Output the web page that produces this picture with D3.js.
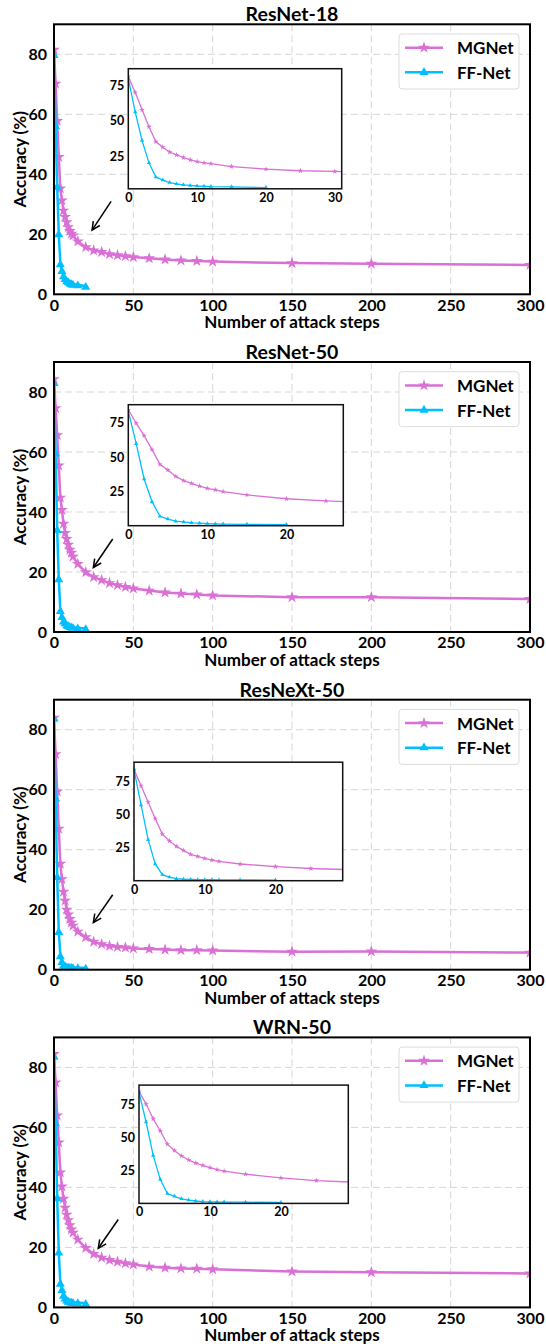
<!DOCTYPE html>
<html>
<head>
<meta charset="utf-8">
<script src="https://cdn.jsdelivr.net/npm/d3@7"></script>
<style>
  body { margin: 0; background: #fff; }
  text { font-family: Lato, "Open Sans", sans-serif; font-weight: bold; fill: #000; }
</style>
</head>
<body>
<div id="chart"></div>
<script>
// attack steps
const steps = [0,1,2,3,4,5,6,7,8,9,10,11,12,15,20,25,30,35,40,45,50,60,70,80,90,100,150,200,300];
const ffSteps = [0,1,2,3,4,5,6,7,8,9,10,11,12,15,20];

const titles = ["ResNet-18", "ResNet-50", "ResNeXt-50", "WRN-50"];

const mgnetResNet18 = [81.5,70.2,57.8,45.8,35.3,31.3,27.9,25.8,24,22.4,21.1,20.2,19.6,17.6,15.7,14.6,14.1,13.4,13,12.7,12.4,12,11.6,11.3,11.1,10.9,10.4,10.2,9.8];
const ffnetResNet18 = [80,56.3,36,20.2,10.2,8,6.2,5.3,4.6,4.2,3.8,3.6,3.4,3.2,2.7];

const mgnetResNet50 = [84.3,74.6,65.6,55.5,44.8,40.7,36.1,33,31,29.1,27.4,26.4,25.1,22.7,19.9,18.3,17.3,16.3,15.6,15,14.5,13.8,13.2,12.8,12.5,12.2,11.6,11.6,11.0];
const ffnetResNet50 = [83.2,59.8,34.2,17.8,7.2,5.2,3.7,3.1,2.5,2.2,1.9,1.7,1.6,1.4,1.2];

const mgnetResNeXt50 = [84,71.8,59.4,47,35.3,30.2,26,23,20,18.4,16.9,15.7,14.7,12.7,10.8,9.3,8.5,7.9,7.6,7.4,7.1,6.9,6.7,6.5,6.5,6.4,6.0,6.1,5.7];
const ffnetResNeXt50 = [84,57.3,31.1,12.8,4.7,2.8,1.6,1.2,1,0.9,0.8,0.8,0.7,0.7,0.6];

const mgnetWRN50 = [84.5,75,64,55,45,40.3,36.2,33.2,30.9,29.1,27.4,26,24.9,22.6,19.8,17.8,16.6,15.8,15.2,14.7,14.3,13.6,13.2,13,12.9,12.7,12.0,11.7,11.3];
const ffnetWRN50 = [83.8,61.6,36.6,18.5,8.1,6,4.1,3.2,2.5,2.1,1.9,1.8,1.7,1.6,1.4];

const xTicks = [0,50,100,150,200,250,300];
const yTicks = [0,20,40,60,80];
const insetYTicks = [25,50,75];
const insetXTicks = [[0,10,20,30],[0,10,20],[0,10,20],[0,10,20]];
const insetXMax = [31, 27.2, 29.5, 29.5];
const insetYLim = [[1.8,87],[0.4,88],[0.1,89.6],[0.7,89.2]];
// annotation arrows in data coords: [x0, y0, x1, y1]
const arrows = [[36,31,24,21.4],[37,31,24.8,21.5],[37,25,24.8,15.7],[40.5,29.3,27.9,19.7]];

const mgnetSeries = [mgnetResNet18, mgnetResNet50, mgnetResNeXt50, mgnetWRN50];
const ffnetSeries = [ffnetResNet18, ffnetResNet50, ffnetResNeXt50, ffnetWRN50];

// layout
const W = 546, H = 1344;
const plotLeft = 54, plotRight = 530, plotH = 270;
const top0 = 24.3, panelStep = 337.7;
// inset boxes relative to panel: [left, top, right, bottom]
const insetBoxes = [[128.3,44.4,341.7,164.5],[128.3,42.7,343.3,163.7],[134,62.5,342.7,181],[139,47.7,348.3,166]];

const mgColor = "#DA70D6", ffColor = "#00BFFF";

const svg = d3.select("#chart").append("svg")
  .attr("width", W).attr("height", H);

const x = d3.scaleLinear().domain([0, 300]).range([plotLeft, plotRight]);
const y = d3.scaleLinear().domain([0, 90]).range([plotH, 0]);

const star = d3.symbol().type(d3.symbolStar);
const tri = d3.symbol().type(d3.symbolTriangle);

titles.forEach((title, i) => {
  const g = svg.append("g").attr("transform", `translate(0,${top0 + i * panelStep})`);
  const mg = steps.map((s, k) => [s, mgnetSeries[i][k]]);
  const ff = ffSteps.map((s, k) => [s, ffnetSeries[i][k]]);

  g.append("text")
    .attr("x", (plotLeft + plotRight) / 2).attr("y", -3)
    .attr("text-anchor", "middle")
    .style("font-size", "19.5px")
    .text(title);

  // grid
  const grid = g.append("g").attr("stroke", "#d6d6d6").attr("stroke-width", 1).attr("stroke-dasharray", "7,4");
  grid.selectAll(".gx").data(xTicks.slice(1, -1)).join("line")
    .attr("x1", d => x(d)).attr("x2", d => x(d)).attr("y1", 0).attr("y2", plotH);
  grid.selectAll(".gy").data(yTicks.slice(1)).join("line")
    .attr("x1", plotLeft).attr("x2", plotRight).attr("y1", d => y(d)).attr("y2", d => y(d));

  // axes
  const xa = g.append("g").attr("transform", `translate(0,${plotH})`)
    .call(d3.axisBottom(x).tickValues(xTicks).tickSize(0).tickPadding(5));
  xa.select(".domain").remove();
  xa.selectAll("text").style("font-size", "16px").style("font-family", null);

  const ya = g.append("g").attr("transform", `translate(${plotLeft},0)`)
    .call(d3.axisLeft(y).tickValues(yTicks).tickSize(0).tickPadding(7));
  ya.select(".domain").remove();
  ya.selectAll("text").style("font-size", "16px").style("font-family", null);

  g.append("text")
    .attr("x", (plotLeft + plotRight) / 2).attr("y", plotH + 34)
    .attr("text-anchor", "middle").style("font-size", "17px")
    .text("Number of attack steps");

  g.append("text")
    .attr("transform", `translate(19,${plotH / 2}) rotate(-90)`)
    .attr("text-anchor", "middle").attr("dominant-baseline", "central")
    .style("font-size", "17px")
    .text("Accuracy (%)");

  // clip
  const clipId = "clip" + i;
  g.append("clipPath").attr("id", clipId).append("rect")
    .attr("x", plotLeft).attr("y", 0).attr("width", plotRight - plotLeft).attr("height", plotH);

  const line = d3.line().x(d => x(d[0])).y(d => y(d[1]));
  const plot = g.append("g").attr("clip-path", `url(#${clipId})`);

  plot.append("path").datum(mg).attr("d", line)
    .attr("fill", "none").attr("stroke", mgColor).attr("stroke-width", 2.5);
  plot.selectAll(".mgm").data(mg).join("path")
    .attr("transform", d => `translate(${x(d[0])},${y(d[1])})`)
    .attr("d", star.size(44)).attr("fill", mgColor);

  plot.append("path").datum(ff).attr("d", line)
    .attr("fill", "none").attr("stroke", ffColor).attr("stroke-width", 2.5);
  plot.selectAll(".ffm").data(ff).join("path")
    .attr("transform", d => `translate(${x(d[0])},${y(d[1]) + 1})`)
    .attr("d", tri.size(36)).attr("fill", ffColor);

  // frame
  g.append("rect").attr("x", plotLeft).attr("y", 0)
    .attr("width", plotRight - plotLeft).attr("height", plotH)
    .attr("fill", "none").attr("stroke", "#000").attr("stroke-width", 2);

  // arrow
  const a = arrows[i];
  const ax0 = x(a[0]), ay0 = y(a[1]), ax1 = x(a[2]), ay1 = y(a[3]);
  const ang = Math.atan2(ay1 - ay0, ax1 - ax0);
  const hl = 9, ha = 0.45;
  g.append("line").attr("x1", ax0).attr("y1", ay0).attr("x2", ax1).attr("y2", ay1)
    .attr("stroke", "#000").attr("stroke-width", 1.5);
  g.append("path")
    .attr("d", `M${ax1 - hl * Math.cos(ang - ha)},${ay1 - hl * Math.sin(ang - ha)}L${ax1},${ay1}L${ax1 - hl * Math.cos(ang + ha)},${ay1 - hl * Math.sin(ang + ha)}`)
    .attr("fill", "none").attr("stroke", "#000").attr("stroke-width", 1.5);

  // legend
  const lg = g.append("g");
  lg.append("rect").attr("x", 399).attr("y", 9.7).attr("width", 120).attr("height", 55)
    .attr("rx", 3).attr("fill", "#fff").attr("fill-opacity", 0.9)
    .attr("stroke", "#dcdcdc").attr("stroke-width", 1);
  [["MGNet", mgColor, star, 44, 23.4], ["FF-Net", ffColor, tri, 36, 48]].forEach(e => {
    lg.append("line").attr("x1", 405).attr("x2", 443).attr("y1", e[4]).attr("y2", e[4])
      .attr("stroke", e[1]).attr("stroke-width", 2.5);
    lg.append("path").attr("transform", `translate(424,${e[4]})`).attr("d", e[2].size(e[3])).attr("fill", e[1]);
    lg.append("text").attr("x", 457).attr("y", e[4]).attr("dominant-baseline", "central")
      .style("font-size", "17px").text(e[0]);
  });

  // inset
  const b = insetBoxes[i];
  const ix = d3.scaleLinear().domain([0, insetXMax[i]]).range([b[0], b[2]]);
  const iy = d3.scaleLinear().domain(insetYLim[i]).range([b[3], b[1]]);
  g.append("rect").attr("x", b[0]).attr("y", b[1]).attr("width", b[2] - b[0]).attr("height", b[3] - b[1])
    .attr("fill", "#fff");
  const iclip = "iclip" + i;
  g.append("clipPath").attr("id", iclip).append("rect")
    .attr("x", b[0]).attr("y", b[1]).attr("width", b[2] - b[0]).attr("height", b[3] - b[1]);
  const ip = g.append("g").attr("clip-path", `url(#${iclip})`);
  const iline = d3.line().x(d => ix(d[0])).y(d => iy(d[1]));
  const mgIn = mg.filter(d => d[0] <= 35);
  ip.append("path").datum(mgIn).attr("d", iline)
    .attr("fill", "none").attr("stroke", mgColor).attr("stroke-width", 1.3);
  ip.selectAll(".imm").data(mgIn).join("path")
    .attr("transform", d => `translate(${ix(d[0])},${iy(d[1])})`)
    .attr("d", star.size(10)).attr("fill", mgColor);
  ip.append("path").datum(ff).attr("d", iline)
    .attr("fill", "none").attr("stroke", ffColor).attr("stroke-width", 1.3);
  ip.selectAll(".ifm").data(ff).join("path")
    .attr("transform", d => `translate(${ix(d[0])},${iy(d[1])})`)
    .attr("d", tri.size(8)).attr("fill", ffColor);
  g.append("rect").attr("x", b[0]).attr("y", b[1]).attr("width", b[2] - b[0]).attr("height", b[3] - b[1])
    .attr("fill", "none").attr("stroke", "#111").attr("stroke-width", 1.5);

  const ixa = g.append("g").attr("transform", `translate(0,${b[3]})`)
    .call(d3.axisBottom(ix).tickValues(insetXTicks[i]).tickSize(0).tickPadding(4));
  ixa.select(".domain").remove();
  ixa.selectAll("text").style("font-size", "12.5px").style("font-family", null);
  const iya = g.append("g").attr("transform", `translate(${b[0]},0)`)
    .call(d3.axisLeft(iy).tickValues(insetYTicks).tickSize(0).tickPadding(4));
  iya.select(".domain").remove();
  iya.selectAll("text").style("font-size", "12.5px").style("font-family", null);
});
</script>
</body>
</html>
